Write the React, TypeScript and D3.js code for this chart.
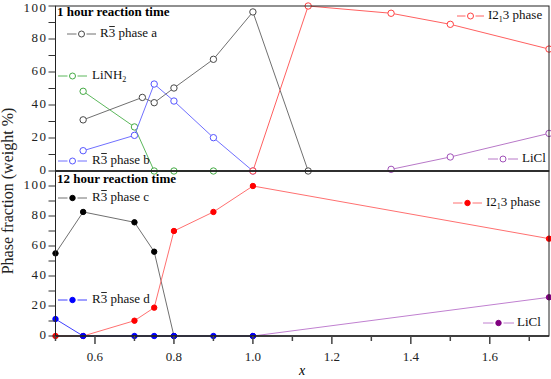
import React from "react";
import * as d3 from "d3";

// 1 hour reaction time
const xA = [0.57, 0.72, 0.75, 0.8, 0.9, 1.0, 1.14];
const phaseA = [31, 44.6, 41.4, 50.3, 67.7, 96.4, 0];
const xB = [0.57, 0.7, 0.75, 0.8, 0.9, 1.0];
const phaseB = [12.3, 21.6, 52.7, 42.4, 20.2, 0];
const xN = [0.57, 0.7, 0.75, 0.8, 0.9];
const liNH2 = [48.3, 26.7, 0, 0, 0];
const xI1 = [1.0, 1.14, 1.35, 1.5, 1.75];
const i213_1h = [0, 100, 95.6, 88.9, 73.9];
const xL1 = [1.35, 1.5, 1.75];
const liCl_1h = [1, 8.5, 22.8];

// 12 hour reaction time
const xC = [0.5, 0.57, 0.7, 0.75, 0.8];
const phaseC = [55.1, 82.7, 75.8, 56.2, 0];
const xD = [0.5, 0.57, 0.7, 0.75, 0.8, 0.9, 1.0];
const phaseD = [11.3, 0, 0, 0, 0, 0, 0];
const xI12 = [0.5, 0.57, 0.7, 0.75, 0.8, 0.9, 1.0, 1.75];
const i213_12h = [0, 0, 10.2, 18.9, 70, 82.7, 100, 64.9];
const xL12 = [1.0, 1.75];
const liCl_12h = [0, 25.8];

const yTicks = [0, 20, 40, 60, 80, 100];
const xTickLabels = [0.6, 0.8, 1.0, 1.2, 1.4, 1.6];

const W = 551;
const H = 379;
const left = 55.5;
const right = 549;
const top = 6;
const mid = 171;
const bottom = 336;
const font = "Liberation Serif, Times New Roman, serif";

const xScale = d3.scaleLinear().domain([0.5, 1.75]).range([left, right]);
const yTop = d3.scaleLinear().domain([0, 100]).range([mid, top]);
const yBot = d3.scaleLinear().domain([0, 110]).range([bottom, mid]);

type Series = {
  xs: number[];
  ys: number[];
  line: string;
  mark: string;
  filled: boolean;
};

// R-3bar label, overline drawn by hand over the 3
const R3 = ({ x, y, suffix }: { x: number; y: number; suffix: string }) => (
  <g>
    <text x={x} y={y} fontSize={13} dominantBaseline="middle" fill="#111">
      {"R3 " + suffix}
    </text>
    <line x1={x + 9.2} x2={x + 14.8} y1={y - 7.5} y2={y - 7.5} stroke="#111" strokeWidth={0.9} />
  </g>
);

const I213 = ({ x, y }: { x: number; y: number }) => (
  <text x={x} y={y} fontSize={13} dominantBaseline="middle" fill="#111">
    I2<tspan fontSize={8} dy={4}>1</tspan>
    <tspan dy={-4}>3 phase</tspan>
  </text>
);

const Legend = ({ x0, x1, y, s }: { x0: number; x1: number; y: number; s: Series }) => {
  const cx = (x0 + x1) / 2;
  return (
    <g>
      <line x1={x0} x2={cx - 5} y1={y} y2={y} stroke={s.line} strokeWidth={1} />
      <line x1={cx + 5} x2={x1} y1={y} y2={y} stroke={s.line} strokeWidth={1} />
      <circle cx={cx} cy={y} r={s.filled ? 2.7 : 3} fill={s.filled ? s.mark : "white"} stroke={s.mark} strokeWidth={1} />
    </g>
  );
};

const Plot = ({ s, y }: { s: Series; y: d3.ScaleLinear<number, number> }) => {
  const pts: [number, number][] = s.xs.map((v, i) => [v, s.ys[i]]);
  const line = d3
    .line<[number, number]>()
    .x((d) => xScale(d[0]))
    .y((d) => y(d[1]));
  return (
    <g>
      <path d={line(pts) || ""} fill="none" stroke={s.line} strokeWidth={1} />
      {pts.map((d, i) => (
        <circle
          key={i}
          cx={xScale(d[0])}
          cy={y(d[1])}
          r={s.filled ? 2.7 : 3.2}
          fill={s.filled ? s.mark : "white"}
          stroke={s.mark}
          strokeWidth={1}
        />
      ))}
    </g>
  );
};

const sA: Series = { xs: xA, ys: phaseA, line: "#707070", mark: "#484848", filled: false };
const sB: Series = { xs: xB, ys: phaseB, line: "#7070ff", mark: "#5555ff", filled: false };
const sN: Series = { xs: xN, ys: liNH2, line: "#5cb85c", mark: "#44aa44", filled: false };
const sI1: Series = { xs: xI1, ys: i213_1h, line: "#ff6060", mark: "#ff4040", filled: false };
const sL1: Series = { xs: xL1, ys: liCl_1h, line: "#b878c8", mark: "#a050b8", filled: false };

const sC: Series = { xs: xC, ys: phaseC, line: "#707070", mark: "#000000", filled: true };
const sI12: Series = { xs: xI12, ys: i213_12h, line: "#ff7070", mark: "#ff0000", filled: true };
const sL12: Series = { xs: xL12, ys: liCl_12h, line: "#c080d0", mark: "#800080", filled: true };
const sD: Series = { xs: xD, ys: phaseD, line: "#4040ff", mark: "#0000ff", filled: true };

const YAxis = ({ y }: { y: d3.ScaleLinear<number, number> }) => (
  <g>
    {d3.range(0, 101, 10).map((t) => (
      <line key={t} x1={left - 7} x2={left} y1={y(t)} y2={y(t)} stroke="#333" strokeWidth={1} />
    ))}
    {yTicks.map((t) => (
      <text
        key={t}
        x={left - 8}
        y={Math.max(y(t), 9)}
        textAnchor="end"
        dominantBaseline="middle"
        fontSize={13}
        letterSpacing={1.5}
        fill="#222"
      >
        {t}
      </text>
    ))}
  </g>
);

export default function App() {
  const minor = d3.range(5, 18).map((v) => v / 10);
  return (
    <svg
      width={W}
      height={H}
      fontFamily={font}
      style={{ position: "absolute", left: 0, top: 0, background: "white" }}
    >
      {/* series, top panel */}
      <Plot s={sN} y={yTop} />
      <Plot s={sB} y={yTop} />
      <Plot s={sA} y={yTop} />
      <Plot s={sL1} y={yTop} />
      <Plot s={sI1} y={yTop} />

      {/* series, bottom panel */}
      <Plot s={sC} y={yBot} />
      <Plot s={sI12} y={yBot} />
      <Plot s={sL12} y={yBot} />
      <Plot s={sD} y={yBot} />

      {/* frames */}
      <rect x={left} y={top} width={right - left} height={mid - top} fill="none" stroke="#222" strokeWidth={1} />
      <rect x={left} y={mid} width={right - left} height={bottom - mid} fill="none" stroke="#222" strokeWidth={1} />
      <line x1={left} x2={right} y1={mid} y2={mid} stroke="#222" strokeWidth={1.5} />
      <line x1={left} x2={right} y1={bottom} y2={bottom} stroke="#222" strokeWidth={1.5} />

      <YAxis y={yTop} />
      <YAxis y={yBot} />

      {/* x axis */}
      {minor.map((t) => {
        const major = Math.round(t * 10) % 2 === 0;
        return (
          <line
            key={t}
            x1={xScale(t)}
            x2={xScale(t)}
            y1={bottom}
            y2={bottom + (major ? 8 : 5)}
            stroke="#444"
            strokeWidth={1.5}
          />
        );
      })}
      {xTickLabels.map((t) => (
        <text key={t} x={xScale(t)} y={358} textAnchor="middle" dominantBaseline="middle" fontSize={13} fill="#222">
          {t.toFixed(1)}
        </text>
      ))}
      <text x={302} y={372} textAnchor="middle" dominantBaseline="middle" fontSize={14} fontStyle="italic">
        x
      </text>
      <text
        transform="translate(9,191) rotate(-90)"
        textAnchor="middle"
        dominantBaseline="middle"
        fontSize={16}
        fill="#222"
      >
        Phase fraction (weight %)
      </text>

      {/* top legends */}
      <text x={57} y={13} fontSize={13} fontWeight="bold" dominantBaseline="middle">
        1 hour reaction time
      </text>
      <Legend x0={67} x1={96} y={34} s={sA} />
      <R3 x={100} y={34} suffix="phase a" />
      <Legend x0={58} x1={87} y={76} s={sN} />
      <text x={92} y={76} fontSize={13} dominantBaseline="middle" fill="#111">
        LiNH<tspan fontSize={8} dy={4}>2</tspan>
      </text>
      <Legend x0={58} x1={87} y={161} s={sB} />
      <R3 x={92} y={161} suffix="phase b" />
      <Legend x0={457} x1={484} y={16} s={sI1} />
      <I213 x={488} y={16} />
      <Legend x0={488} x1={518} y={159} s={sL1} />
      <text x={522} y={159} fontSize={13} dominantBaseline="middle" fill="#111">
        LiCl
      </text>

      {/* bottom legends */}
      <text x={57} y={180} fontSize={13} fontWeight="bold" dominantBaseline="middle">
        12 hour reaction time
      </text>
      <Legend x0={58} x1={87} y={198} s={sC} />
      <R3 x={92} y={198} suffix="phase c" />
      <Legend x0={58} x1={87} y={300} s={sD} />
      <R3 x={92} y={300} suffix="phase d" />
      <Legend x0={453} x1={482} y={203} s={sI12} />
      <I213 x={486} y={203} />
      <Legend x0={483} x1={514} y={323} s={sL12} />
      <text x={517} y={323} fontSize={13} dominantBaseline="middle" fill="#111">
        LiCl
      </text>
    </svg>
  );
}
